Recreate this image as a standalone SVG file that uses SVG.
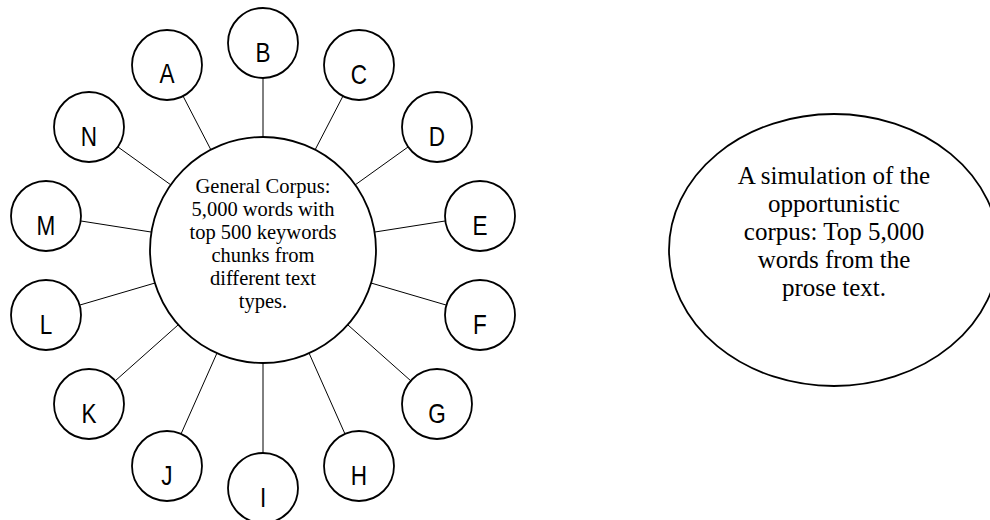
<svg xmlns="http://www.w3.org/2000/svg" width="990" height="520" viewBox="0 0 990 520">
<style>
.bg{fill:#ffffff}
.node{fill:#ffffff;stroke:#000000;stroke-width:1.8}
.conn line{stroke:#000000;stroke-width:1}
.lbl{font-family:"Liberation Sans","Arial",sans-serif;font-size:27.5px;fill:#000000;text-anchor:middle}
.body{font-family:"Liberation Serif","Times New Roman",serif;font-size:20.5px;fill:#000000;text-anchor:middle}
.body2{font-family:"Liberation Serif","Times New Roman",serif;font-size:25px;fill:#000000;text-anchor:middle}
</style>
<rect class="bg" x="0" y="0" width="990" height="520"/>
<g id="connectors" class="conn">
<line x1="263" y1="78" x2="263" y2="137"/>
<line x1="183" y1="96" x2="211" y2="150"/>
<line x1="343" y1="96" x2="315" y2="150"/>
<line x1="118" y1="147" x2="171" y2="185"/>
<line x1="408" y1="147" x2="355" y2="185"/>
<line x1="81" y1="221" x2="151" y2="232"/>
<line x1="445" y1="221" x2="375" y2="232"/>
<line x1="80" y1="305" x2="155" y2="283"/>
<line x1="446" y1="305" x2="371" y2="283"/>
<line x1="115" y1="381" x2="178" y2="325"/>
<line x1="411" y1="381" x2="348" y2="325"/>
<line x1="181" y1="434" x2="217" y2="353"/>
<line x1="345" y1="434" x2="309" y2="353"/>
<line x1="263" y1="453" x2="263" y2="363"/>
</g>
<g id="center">
<circle class="node" cx="263" cy="250" r="113"/>
<text class="body" x="263" y="193">General Corpus:</text>
<text class="body" x="263" y="216">5,000 words with</text>
<text class="body" x="263" y="239">top 500 keywords</text>
<text class="body" x="263" y="262">chunks from</text>
<text class="body" x="263" y="284.5">different text</text>
<text class="body" x="263" y="307.5">types.</text>
</g>
<g id="nodeA"><circle class="node" cx="167" cy="65" r="35"/><text class="lbl" transform="translate(167,83) scale(0.82,1)">A</text></g>
<g id="nodeB"><circle class="node" cx="263" cy="43" r="35"/><text class="lbl" transform="translate(263,61.5) scale(0.82,1)">B</text></g>
<g id="nodeC"><circle class="node" cx="359" cy="65" r="35"/><text class="lbl" transform="translate(359,83.5) scale(0.82,1)">C</text></g>
<g id="nodeD"><circle class="node" cx="437" cy="127" r="35"/><text class="lbl" transform="translate(437,145.5) scale(0.82,1)">D</text></g>
<g id="nodeE"><circle class="node" cx="480" cy="216" r="35"/><text class="lbl" transform="translate(480,234.5) scale(0.82,1)">E</text></g>
<g id="nodeF"><circle class="node" cx="480" cy="315" r="35"/><text class="lbl" transform="translate(480,333.5) scale(0.82,1)">F</text></g>
<g id="nodeG"><circle class="node" cx="437" cy="404" r="35"/><text class="lbl" transform="translate(437,422.5) scale(0.82,1)">G</text></g>
<g id="nodeH"><circle class="node" cx="359" cy="466" r="35"/><text class="lbl" transform="translate(359,484.5) scale(0.82,1)">H</text></g>
<g id="nodeI"><circle class="node" cx="263" cy="488" r="35"/><text class="lbl" transform="translate(263,506.5) scale(0.82,1)">I</text></g>
<g id="nodeJ"><circle class="node" cx="167" cy="466" r="35"/><text class="lbl" transform="translate(167,484.5) scale(0.82,1)">J</text></g>
<g id="nodeK"><circle class="node" cx="89" cy="404" r="35"/><text class="lbl" transform="translate(89,422.5) scale(0.82,1)">K</text></g>
<g id="nodeL"><circle class="node" cx="46" cy="315" r="35"/><text class="lbl" transform="translate(46,333.5) scale(0.82,1)">L</text></g>
<g id="nodeM"><circle class="node" cx="46" cy="216" r="35"/><text class="lbl" transform="translate(46,234.5) scale(0.82,1)">M</text></g>
<g id="nodeN"><circle class="node" cx="89" cy="127" r="35"/><text class="lbl" transform="translate(89,145.5) scale(0.82,1)">N</text></g>
<g id="simulation">
<ellipse class="node" cx="834" cy="250" rx="165" ry="136"/>
<text class="body2" x="834" y="184">A simulation of the</text>
<text class="body2" x="834" y="212">opportunistic</text>
<text class="body2" x="834" y="240">corpus: Top 5,000</text>
<text class="body2" x="834" y="268">words from the</text>
<text class="body2" x="834" y="296">prose text.</text>
</g>
</svg>
